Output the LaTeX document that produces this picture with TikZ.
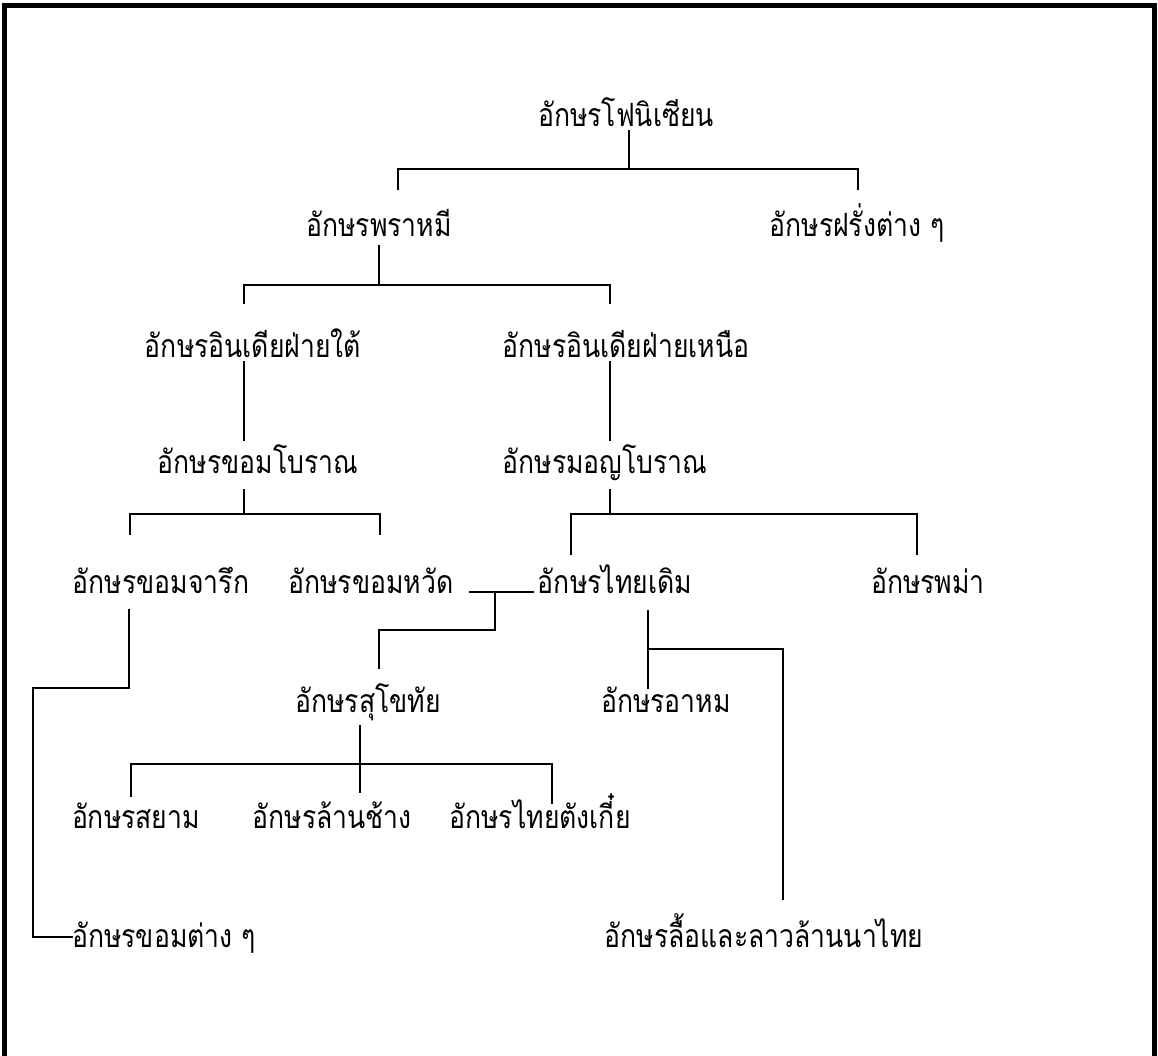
\documentclass[tikz,border=0pt]{standalone}
\usepackage{fontspec}
\newfontfamily\thaifont[Script=Thai,FakeStretch=0.83]{Loma}
\begin{document}
\begin{tikzpicture}[x=1pt,y=-1pt,
  lbl/.style={font=\thaifont\fontsize{32}{38}\selectfont, inner sep=0pt, anchor=base},
  ln/.style={line width=1.7pt, line cap=rect},
  frame/.style={line width=5pt}]
\useasboundingbox (0,0) rectangle (1158,1056);
\draw[frame] (4.5,1056) -- (4.5,5.5) -- (1154,5.5) -- (1154,1056);
% texts
\node[lbl] (phoen) at (626,127) {อักษรโฟนิเซียน};
\node[lbl] (brahmi) at (379,237) {อักษรพราหมี};
\node[lbl] (farang) at (857,237) {อักษรฝรั่งต่าง ๆ};
\node[lbl] (south) at (253,357) {อักษรอินเดียฝ่ายใต้};
\node[lbl] (north) at (626,357) {อักษรอินเดียฝ่ายเหนือ};
\node[lbl] (okhmer) at (258,473) {อักษรขอมโบราณ};
\node[lbl] (omon) at (605,473) {อักษรมอญโบราณ};
\node[lbl] (jaruk) at (161,593) {อักษรขอมจารึก};
\node[lbl] (wat) at (371,593) {อักษรขอมหวัด};
\node[lbl] (thaidoem) at (615,593) {อักษรไทยเดิม};
\node[lbl] (burma) at (928,593) {อักษรพม่า};
\node[lbl] (sukho) at (368,712) {อักษรสุโขทัย};
\node[lbl] (ahom) at (666,712) {อักษรอาหม};
\node[lbl] (siam) at (136,828) {อักษรสยาม};
\node[lbl] (lanxang) at (332,828) {อักษรล้านช้าง};
\node[lbl] (tonkin) at (540,828) {อักษรไทยตังเกี๋ย};
\node[lbl, anchor=base west] (khmers) at (72,947) {อักษรขอมต่าง ๆ};
\node[lbl] (lue) at (764,947) {อักษรลื้อและลาวล้านนาไทย};
% connector points
\coordinate (p1) at (629,131);
\coordinate (p2) at (379,246);
\coordinate (p3) at (244,362);
\coordinate (p4) at (610,362);
\coordinate (p5) at (244,490);
\coordinate (p6) at (610,490);
\coordinate (p7) at (470,592);
\coordinate (p8) at (129,610);
\coordinate (p9) at (648,611);
\coordinate (p10) at (360,726);
% connectors
\draw[ln] (p1) -- (629,169);
\draw[ln] (398,189) -- (398,169) -- (858,169) -- (858,189);
\draw[ln] (p2) -- (379,285);
\draw[ln] (244,303) -- (244,285) -- (610,285) -- (610,303);
\draw[ln] (p3) -- (244,440);
\draw[ln] (p4) -- (610,440);
\draw[ln] (p5) -- (244,514);
\draw[ln] (130,534) -- (130,514) -- (380,514) -- (380,534);
\draw[ln] (p6) -- (610,514);
\draw[ln] (571,554) -- (571,514) -- (917,514) -- (917,554);
\draw[ln] (p7) -- (533,592);
\draw[ln] (495,592) -- (495,630) -- (379,630) -- (379,668);
\draw[ln] (p8) -- (129,688) -- (33,688) -- (33,937) -- (khmers.west |- 0,937);
\draw[ln] (p9) -- (648,688);
\draw[ln] (648,649) -- (783,649) -- (783,899);
\draw[ln] (p10) -- (360,792);
\draw[ln] (131,796) -- (131,764) -- (552,764) -- (552,803);
\end{tikzpicture}
\end{document}
